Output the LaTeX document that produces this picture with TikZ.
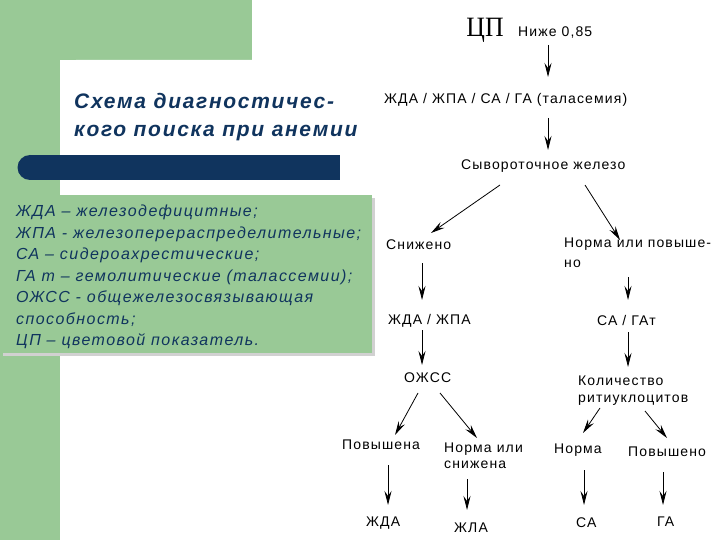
\documentclass[tikz,border=0pt]{standalone}
\usepackage{fontspec}
\setmainfont{Liberation Sans}
\newfontfamily\cpfont{Liberation Serif}
\newfontfamily\flowfont{Liberation Sans}[LetterSpace=8]
\newfontfamily\titlefont{Liberation Sans}[LetterSpace=8]
\newfontfamily\legendfont{Liberation Sans}[LetterSpace=9]
\usetikzlibrary{arrows.meta,positioning,calc}

\definecolor{slidegreen}{RGB}{153,201,150}
\definecolor{slidenavy}{RGB}{16,52,94}

\tikzset{
  lbl/.style={font=\fontsize{14}{17}\flowfont, inner sep=1pt, align=left},
  arr/.style={-{Stealth[length=14pt,width=7pt,inset=5pt]}, line width=0.8pt},
}

\begin{document}
\begin{tikzpicture}[x=1pt,y=-1pt]
    \useasboundingbox (0,0) rectangle (720,540);

    % slide background
    \fill[white] (0,0) rectangle (720,540);
    \fill[slidegreen] (0,0) rectangle (252,60);
    \fill[slidegreen] (0,0) rectangle (60,540);
    \fill[white] (60,540) [rounded corners=16pt] -- (60,60) [sharp corners] -- (720,60) -- (720,540) -- cycle;

    % title and bar
    \node[anchor=north west, inner sep=0pt, align=left, text=slidenavy,
          font=\fontsize{21}{28.5}\titlefont\bfseries\itshape] (title) at (74,93)
        {Схема диагностичес-\\кого поиска при анемии};
    \fill[slidenavy] (30,155) rectangle (340,180);
    \fill[slidenavy] (30,167.5) circle[radius=12.5];

    % legend
    \fill[black!18] (3,198) rectangle (375,356);
    \fill[slidegreen] (0,195) rectangle (372,353);
    \node[anchor=north west, inner sep=0pt, align=left, text=slidenavy,
          font=\fontsize{16}{21.5}\legendfont\itshape] (legend) at (16,205)
        {ЖДА – железодефицитные;\\
         ЖПА - железоперераспределительные;\\
         СА – сидероахрестические;\\
         ГА т – гемолитические (талассемии);\\
         ОЖСС - общежелезосвязывающая\\
         способность;\\
         ЦП – цветовой показатель.};

    % scheme
    \node[inner sep=0pt, xscale=0.92, font=\fontsize{28}{28}\cpfont] (cp) at (485,30) {ЦП};
    \node[lbl, anchor=west] (low) at (517,33) {Ниже 0,85};
    \node[lbl, anchor=west] (all) at (383,100) {ЖДА / ЖПА / СА / ГА (таласемия)};
    \node[lbl, anchor=west] (iron) at (460,166) {Сывороточное железо};
    \node[lbl, anchor=west] (dec) at (385,245) {Снижено};
    \node[lbl, anchor=north west, font=\fontsize{14}{20}\flowfont] (normhi) at (563,237) {Норма или повыше-\\но};
    \node[lbl, anchor=west] (jdzp) at (387,321) {ЖДА / ЖПА};
    \node[lbl, anchor=west] (sagat) at (596,320) {СА / ГАт};
    \node[lbl, anchor=west] (ojss) at (403,378) {ОЖСС};
    \node[lbl, anchor=north west] (retic) at (577,375) {Количество\\ритиуклоцитов};
    \node[lbl, anchor=west] (up) at (341,445) {Повышена};
    \node[lbl, anchor=north west, font=\fontsize{14}{16}\flowfont] (normlow) at (443,442) {Норма или\\снижена};
    \node[lbl, anchor=west] (norm) at (553,450) {Норма};
    \node[lbl, anchor=west] (upo) at (627,452) {Повышено};
    \node[lbl, anchor=west] (jda) at (365,523) {ЖДА};
    \node[lbl, anchor=west] (jla) at (453,528) {ЖЛА};
    \node[lbl, anchor=west] (sa) at (575,523) {СА};
    \node[lbl, anchor=west] (ga) at (656,522) {ГА};

    % arrows
    \draw[arr] ($(low.west)+(31,12)$) -- ($(all.west)+(165,-23)$);
    \draw[arr] ($(all.west)+(165,18)$) -- ($(iron.west)+(88,-16)$);
    \draw[arr] ($(iron.west)+(40,19)$) -- ($(dec.west)+(46,-12)$);
    \draw[arr] ($(iron.west)+(125,19)$) -- ($(normhi.north west)+(57,3)$);
    \draw[arr] ($(dec.west)+(37,18)$) -- ($(jdzp.west)+(35,-21)$);
    \draw[arr] ($(normhi.north west)+(65,40)$) -- ($(sagat.west)+(32,-20)$);
    \draw[arr] ($(jdzp.west)+(35,9)$) -- ($(ojss.west)+(19,-13)$);
    \draw[arr] ($(sagat.west)+(32,12)$) -- ($(retic.north west)+(51,-8)$);
    \draw[arr] ($(ojss.west)+(15,15)$) -- ($(up.west)+(54,-10)$);
    \draw[arr] ($(ojss.west)+(37,15)$) -- ($(normlow.north west)+(34,-4)$);
    \draw[arr] ($(retic.north west)+(23,33)$) -- ($(norm.west)+(30,-17)$);
    \draw[arr] ($(retic.north west)+(68,36)$) -- ($(upo.west)+(40,-14)$);
    \draw[arr] ($(up.west)+(47,20)$) -- ($(jda.west)+(23,-18)$);
    \draw[arr] ($(normlow.north west)+(24,37)$) -- ($(jla.west)+(14,-18)$);
    \draw[arr] ($(norm.west)+(31,20)$) -- ($(sa.west)+(9,-18)$);
    \draw[arr] ($(upo.west)+(36,20)$) -- ($(ga.west)+(7,-17)$);
\end{tikzpicture}
\end{document}
